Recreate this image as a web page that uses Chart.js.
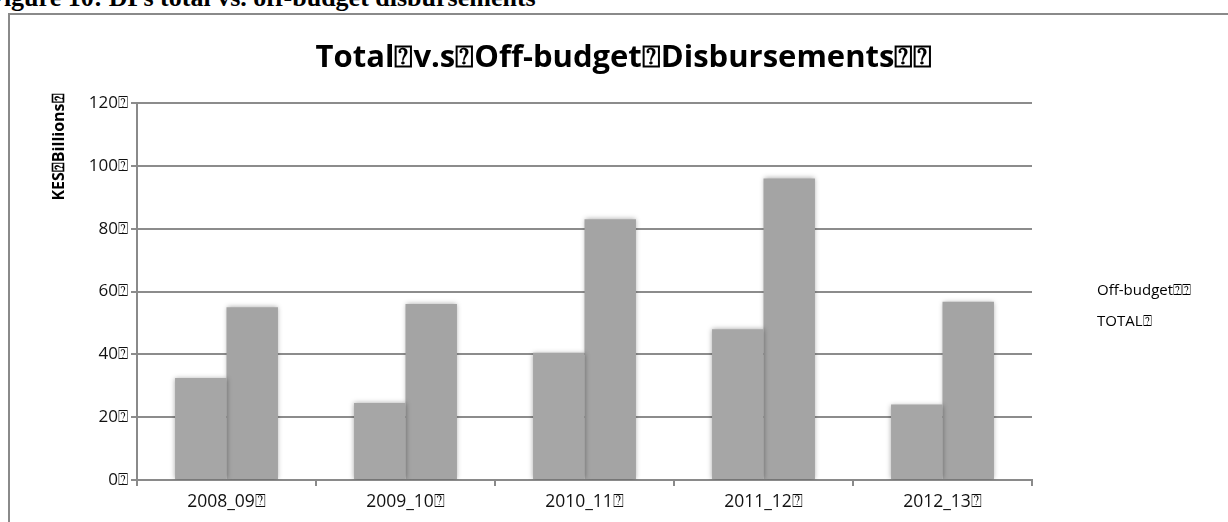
<!DOCTYPE html>
<html>
<head>
<meta charset="utf-8">
<script src="https://cdn.jsdelivr.net/npm/chart.js@4.4.1/dist/chart.umd.min.js"></script>
<style>
  html, body { margin: 0; padding: 0; background: #fff; overflow: hidden; }
  body { width: 1228px; height: 522px; position: relative; }
  #caption {
    position: absolute; left: -12px; top: -17px;
    font: bold 26px "Liberation Serif", serif; color: #000; white-space: nowrap;
  }
  #frame {
    position: absolute; left: 8px; top: 13px; width: 1240px; height: 540px;
    border: 2px solid #8a8a8a; box-sizing: border-box;
  }
  #chart { position: absolute; left: 0; top: 0; }
</style>
</head>
<body>
<div id="caption">Figure 10: DPs total vs. off-budget disbursements</div>
<div id="frame"></div>
<canvas id="chart" width="1228" height="522"></canvas>
<script>
const Q = '\u2370'; // the missing-glyph box the source shows
const categories = ['2008_09', '2009_10', '2010_11', '2011_12', '2012_13'];
const offBudget = [32.5, 24.5, 40.5, 48, 24];
const total = [55, 56, 83, 96, 56.7];
const yTicks = [0, 20, 40, 60, 80, 100, 120];
const seriesNames = ['Off-budget' + Q + Q, 'TOTAL' + Q];
const chartTitle = 'Total' + Q + 'v.s' + Q + 'Off-budget' + Q + 'Disbursements' + Q + Q;
const yTitle = 'KES' + Q + 'Billions' + Q;

const FONT = '"Open Sans", "Liberation Sans", sans-serif';

// title, y title and text-only legend, drawn on the canvas
const extras = {
  id: 'extras',
  afterDraw(chart) {
    const ctx = chart.ctx;
    ctx.save();
    ctx.fillStyle = '#000';
    ctx.font = 'bold 31px ' + FONT;
    ctx.textAlign = 'center';
    ctx.textBaseline = 'middle';
    ctx.fillText(chartTitle, 624, 58);

    ctx.font = '15px ' + FONT;
    ctx.textAlign = 'left';
    ctx.fillText(seriesNames[0], 1097, 291);
    ctx.fillText(seriesNames[1], 1097, 322);

    ctx.translate(59, 147);
    ctx.rotate(-Math.PI / 2);
    ctx.textAlign = 'center';
    ctx.font = 'bold 16px ' + FONT;
    ctx.fillText(yTitle, 0, 0);
    ctx.restore();
  }
};

// soft edges on the bars
const barShadow = {
  id: 'barShadow',
  beforeDatasetsDraw(chart) {
    chart.ctx.save();
    chart.ctx.shadowColor = 'rgba(0,0,0,0.35)';
    chart.ctx.shadowBlur = 5;
  },
  afterDatasetsDraw(chart) {
    chart.ctx.restore();
  }
};

new Chart(document.getElementById('chart'), {
  type: 'bar',
  data: {
    labels: categories.map(c => c + Q),
    datasets: [
      { label: seriesNames[0], data: offBudget, backgroundColor: '#a6a6a6', borderWidth: 0 },
      { label: seriesNames[1], data: total, backgroundColor: '#a4a4a4', borderWidth: 0 }
    ]
  },
  options: {
    responsive: false,
    animation: false,
    devicePixelRatio: 1,
    layout: { padding: { top: 103, right: 196, bottom: 0, left: 0 } },
    plugins: {
      legend: { display: false },
      title: { display: false },
      tooltip: { enabled: false }
    },
    datasets: { bar: { categoryPercentage: 0.575, barPercentage: 1.0 } },
    scales: {
      x: {
        z: 1,
        grid: { offset: true, drawOnChartArea: false, drawTicks: true, tickLength: 6, color: '#8a8a8a', lineWidth: 2 },
        border: { color: '#8a8a8a', width: 2 },
        ticks: { color: '#111', font: { family: FONT, size: 17.5 }, padding: 6, maxRotation: 0 },
        afterFit(scale) { scale.height = 42; }
      },
      y: {
        z: 1,
        min: 0, max: 120,
        afterBuildTicks(scale) { scale.ticks = yTicks.map(v => ({ value: v })); },
        grid: { color: 'rgba(0,0,0,0.45)', lineWidth: 2, drawTicks: true, tickLength: 6 },
        border: { color: '#8a8a8a', width: 2 },
        ticks: { color: '#111', font: { family: FONT, size: 17 }, padding: 3, callback: v => v + Q },
        afterFit(scale) { scale.width = 137; }
      }
    }
  },
  plugins: [barShadow, extras]
});
</script>
</body>
</html>
